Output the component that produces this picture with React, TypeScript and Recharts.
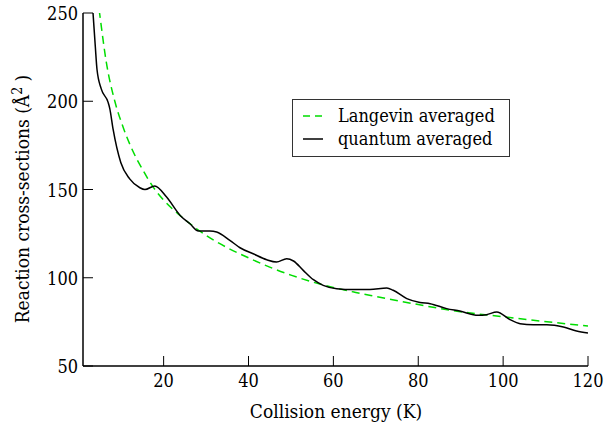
import React from 'react';
import { LineChart, Line, XAxis, YAxis, Legend, Label } from 'recharts';

const langevinEnergy = [4.4, 4.9, 6.5, 8.5, 10.5, 12.8, 15, 17.5, 20, 24, 30, 35, 40, 45, 50, 57.6, 65, 70, 80, 88.3, 100, 111.8, 120];
const langevinSigma = [259, 250, 222, 200, 185, 171.5, 161.5, 151.5, 144, 135, 124, 117, 111.3, 106, 101.5, 95.9, 91.8, 89.4, 84.8, 81.3, 77.9, 74.7, 72.6];

const quantumEnergy = [3.0, 3.36, 3.9, 4.3, 5.3, 6.9, 7.3, 8.1, 9.9, 12, 14.4, 15.6, 17.9, 20.7, 23.9, 26.2, 28.2, 30.9, 32.5, 35.6, 38, 41.1, 44.3, 46.6, 49, 50.6, 52.9, 55.3, 57.6, 60.8, 64.7, 68.6, 72.6, 74.1, 77.3, 80.4, 82.8, 86.7, 89.8, 94.1, 96.1, 98.5, 101.6, 104, 107.1, 110.3, 114.2, 117.3, 120];
const quantumSigma = [262, 250, 231, 218, 207, 199.5, 196, 184, 165.3, 156, 151, 150, 152, 145.7, 135.3, 130.6, 126.5, 126.5, 125.9, 121.2, 117, 113.6, 110.2, 108.9, 110.8, 109.5, 104.2, 98.9, 95.7, 93.8, 93.3, 93.3, 94.2, 92.9, 88.2, 86, 85.3, 82.5, 81.1, 78.7, 79.1, 80.6, 76.3, 74, 73.4, 73.4, 72.1, 69.8, 68.7];

const xTicks = [20, 40, 60, 80, 100, 120];
const yTicks = [50, 100, 150, 200, 250];

const seriesNames = ['Langevin averaged', 'quantum averaged'];

const langevinData = langevinEnergy.map((e, i) => ({ e, s: langevinSigma[i] }));
const quantumData = quantumEnergy.map((e, i) => ({ e, s: quantumSigma[i] }));

const FONT = 'DejaVu Serif Condensed, DejaVu Serif';
const GREEN = '#00dd00';
const FS = 18;
const TICK_LEN = 10;

const BottomTick = (p: any) => (
  <g>
    <line x1={p.x} y1={p.y} x2={p.x} y2={p.y - TICK_LEN} stroke="#000" strokeWidth={1} />
    <text x={p.x} y={p.y + 21} textAnchor="middle" fontFamily={FONT} fontSize={FS} fill="#000">
      {p.payload.value}
    </text>
  </g>
);

const TopTick = (p: any) => (
  <line x1={p.x} y1={p.y} x2={p.x} y2={p.y + TICK_LEN} stroke="#000" strokeWidth={1} />
);

const LeftTick = (p: any) => (
  <g>
    <line x1={p.x} y1={p.y} x2={p.x + TICK_LEN} y2={p.y} stroke="#000" strokeWidth={1} />
    <text x={p.x - 5} y={p.y + 7} textAnchor="end" fontFamily={FONT} fontSize={FS} fill="#000">
      {p.payload.value}
    </text>
  </g>
);

const RightTick = (p: any) => (
  <line x1={p.x} y1={p.y} x2={p.x - TICK_LEN} y2={p.y} stroke="#000" strokeWidth={1} />
);

const YLabel = (props: any) => {
  const cy = 199;
  return (
    <text
      transform={`translate(28.5, ${cy}) rotate(-90)`}
      textAnchor="middle"
      fontFamily={FONT}
      fontSize={19}
      fill="#000"
    >
      Reaction cross-sections (Å
      <tspan dy={-7} fontSize={14}>2</tspan>
      <tspan dy={7}> )</tspan>
    </text>
  );
};

const XLabel = (props: any) => (
  <text x={336} y={418} textAnchor="middle" fontFamily={FONT} fontSize={19} fill="#000">
    Collision energy (K)
  </text>
);

const LegendBox = () => (
  <div
    style={{
      position: 'relative',
      width: 218,
      height: 58,
      boxSizing: 'border-box',
      border: '1px solid #333',
      background: '#fff',
      fontFamily: FONT,
      fontSize: FS,
      color: '#000',
    }}
  >
    {seriesNames.map((name, i) => (
      <div key={name} style={{ position: 'absolute', left: 0, top: 4 + i * 23, height: 23, width: '100%' }}>
        <svg width={24} height={23} style={{ position: 'absolute', left: 9, top: 0 }}>
          <line
            x1={1}
            x2={21}
            y1={12}
            y2={12}
            stroke={i === 0 ? GREEN : '#000'}
            strokeWidth={1.5}
            strokeDasharray={i === 0 ? '7 5' : undefined}
          />
        </svg>
        <span style={{ position: 'absolute', left: 45, top: 0, lineHeight: '23px', whiteSpace: 'nowrap' }}>{name}</span>
      </div>
    ))}
  </div>
);

export default function App() {
  return (
    <div style={{ position: 'absolute', left: 0, top: 0, width: 605, height: 427 }}>
      <LineChart width={605} height={427} margin={{ top: 13, right: 17, bottom: 0, left: 0 }}>
        <XAxis
          xAxisId="bottom"
          dataKey="e"
          type="number"
          domain={[1, 120]}
          ticks={xTicks}
          interval={0}
          allowDataOverflow
          height={61}
          tickSize={0}
          tickMargin={0}
          tickLine={false}
          tick={<BottomTick />}
          axisLine={{ stroke: '#000', strokeWidth: 1.5 }}
        >
          <Label content={<XLabel />} />
        </XAxis>
        <XAxis
          xAxisId="top"
          orientation="top"
          dataKey="e"
          type="number"
          domain={[1, 120]}
          ticks={xTicks}
          interval={0}
          allowDataOverflow
          height={0}
          tickSize={0}
          tickMargin={0}
          tickLine={false}
          tick={<TopTick />}
          axisLine={{ stroke: '#000', strokeWidth: 1.5 }}
        />
        <YAxis
          yAxisId="left"
          type="number"
          domain={[50, 250]}
          ticks={yTicks}
          interval={0}
          allowDataOverflow
          width={83}
          tickSize={0}
          tickMargin={0}
          tickLine={false}
          tick={<LeftTick />}
          axisLine={{ stroke: '#000', strokeWidth: 1.5 }}
        >
          <Label content={<YLabel />} />
        </YAxis>
        <YAxis
          yAxisId="right"
          orientation="right"
          type="number"
          domain={[50, 250]}
          ticks={yTicks}
          interval={0}
          allowDataOverflow
          width={0}
          tickSize={0}
          tickMargin={0}
          tickLine={false}
          tick={<RightTick />}
          axisLine={{ stroke: '#000', strokeWidth: 1.5 }}
        />
        <Legend
          layout="horizontal"
          verticalAlign="middle"
          align="center"
          content={<LegendBox />}
          wrapperStyle={{ position: 'absolute', left: 292, top: 99, width: 218, height: 58 }}
        />
        <Line
          xAxisId="bottom"
          yAxisId="left"
          data={langevinData}
          dataKey="s"
          name={seriesNames[0]}
          type="monotone"
          stroke={GREEN}
          strokeWidth={1.5}
          strokeDasharray="8 5"
          dot={false}
          activeDot={false}
          isAnimationActive={false}
        />
        <Line
          xAxisId="bottom"
          yAxisId="left"
          data={quantumData}
          dataKey="s"
          name={seriesNames[1]}
          type="monotone"
          stroke="#000"
          strokeWidth={1.5}
          dot={false}
          activeDot={false}
          isAnimationActive={false}
        />
      </LineChart>
    </div>
  );
}
